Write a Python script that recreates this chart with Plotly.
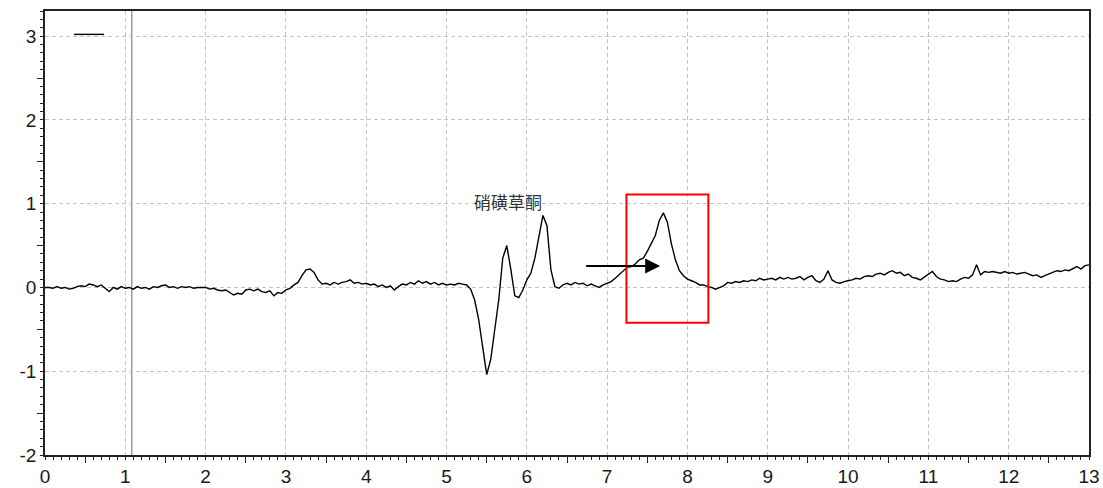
import plotly.graph_objects as go

# Detector trace sampled every 0.05 min from 0 to 13 min
sample_step = 0.05
signal = [
    # 0.00 - 1.00
    0.00, 0.00, -0.01, 0.01, -0.01, 0.00, -0.02, -0.01, 0.01, 0.02,
    0.01, 0.04, 0.03, 0.01, 0.03, -0.01, -0.05, 0.00, -0.02, 0.01, -0.01,
    # 1.05 - 2.00
    0.00, -0.02, 0.01, -0.01, 0.00, -0.02, 0.01, 0.00, 0.02, 0.03,
    0.00, 0.01, -0.01, 0.01, 0.00, 0.01, -0.01, 0.00, 0.00, 0.00,
    # 2.05 - 3.00
    -0.02, -0.01, -0.03, -0.04, -0.03, -0.06, -0.09, -0.07, -0.08, -0.03,
    -0.02, -0.04, -0.02, -0.05, -0.06, -0.04, -0.10, -0.06, -0.07, -0.03,
    # 3.05 - 4.00
    -0.01, 0.03, 0.06, 0.14, 0.21, 0.22, 0.18, 0.09, 0.04, 0.05,
    0.03, 0.06, 0.04, 0.06, 0.07, 0.09, 0.05, 0.06, 0.04, 0.05,
    # 4.05 - 5.00
    0.03, 0.04, 0.01, 0.03, 0.00, 0.02, -0.03, 0.01, 0.04, 0.03,
    0.06, 0.04, 0.08, 0.05, 0.07, 0.04, 0.06, 0.03, 0.05, 0.03,
    # 5.05 - 6.00
    0.04, 0.03, 0.05, 0.04, 0.03, -0.02, -0.15, -0.38, -0.70, -1.04,
    -0.86, -0.52, -0.15, 0.35, 0.50, 0.22, -0.10, -0.12, -0.03, 0.09,
    # 6.05 - 7.00
    0.17, 0.35, 0.62, 0.86, 0.74, 0.21, 0.01, -0.01, 0.03, 0.05,
    0.03, 0.06, 0.04, 0.05, 0.02, 0.04, 0.02, 0.00, 0.03, 0.05,
    # 7.05 - 8.00
    0.07, 0.11, 0.15, 0.20, 0.24, 0.25, 0.28, 0.33, 0.35, 0.43,
    0.52, 0.62, 0.80, 0.89, 0.78, 0.52, 0.33, 0.20, 0.14, 0.10,
    # 8.05 - 9.00
    0.08, 0.06, 0.03, 0.03, 0.01, 0.00, -0.02, 0.00, 0.02, 0.06,
    0.05, 0.07, 0.06, 0.08, 0.07, 0.09, 0.08, 0.11, 0.09, 0.10,
    # 9.05 - 10.00
    0.11, 0.09, 0.12, 0.10, 0.12, 0.10, 0.11, 0.13, 0.09, 0.12,
    0.14, 0.08, 0.06, 0.10, 0.20, 0.09, 0.06, 0.05, 0.07, 0.08,
    # 10.05 - 11.00
    0.09, 0.11, 0.10, 0.13, 0.14, 0.13, 0.16, 0.17, 0.15, 0.18,
    0.20, 0.17, 0.18, 0.14, 0.16, 0.12, 0.11, 0.09, 0.12, 0.15,
    # 11.05 - 12.00
    0.19, 0.13, 0.10, 0.09, 0.07, 0.08, 0.07, 0.10, 0.12, 0.11,
    0.15, 0.27, 0.15, 0.19, 0.18, 0.19, 0.18, 0.17, 0.19, 0.17,
    # 12.05 - 13.00
    0.18, 0.16, 0.17, 0.18, 0.16, 0.14, 0.15, 0.12, 0.14, 0.16,
    0.18, 0.20, 0.19, 0.21, 0.20, 0.23, 0.25, 0.22, 0.26, 0.27,
]
times = [round(i * sample_step, 2) for i in range(len(signal))]

x_ticks = list(range(0, 14))
x_tick_labels = [str(v) for v in x_ticks]
y_ticks = [-2, -1, 0, 1, 2, 3]
y_tick_labels = ["-2", "-1", "0", "1", "2", "3"]
x_half_ticks = [v + 0.5 for v in range(0, 13)]
y_half_ticks = [-1.5, -0.5, 0.5, 1.5, 2.5]

x_range = [0, 13]
y_range = [-2, 3.3]

marker_time = 1.08
peak_label = "硝磺草酮"
label_pos = (5.77, 1.03)
arrow_start = (6.72, 0.255)
arrow_end = (7.66, 0.255)
box_x = (7.24, 8.26)
box_y = (-0.42, 1.11)

axis_color = "#222222"
grid_color = "#c4c4c4"
tick_font = dict(family="Liberation Sans, Arial, sans-serif", size=19, color="#1a1a1a")

fig = go.Figure()
fig.add_trace(go.Scatter(
    x=times, y=signal, mode="lines", name=" ",
    line=dict(color="#000000", width=1.4),
    showlegend=True, hoverinfo="x+y",
))
# empty trace carrying the secondary (half-step tick) axes
fig.add_trace(go.Scatter(x=[], y=[], xaxis="x2", yaxis="y2", showlegend=False))

fig.update_layout(
    width=1103, height=488,
    margin=dict(l=45, r=14, t=11, b=33),
    paper_bgcolor="white", plot_bgcolor="white",
    showlegend=True,
    legend=dict(x=0.023, y=0.98, xanchor="left", yanchor="top",
                bgcolor="rgba(0,0,0,0)", font=dict(size=8),
                itemwidth=30, tracegroupgap=0),
    xaxis=dict(
        range=x_range, tickvals=x_ticks, ticktext=x_tick_labels,
        ticks="outside", ticklen=3, tickwidth=1, tickcolor=axis_color,
        tickfont=tick_font, automargin=False,
        showgrid=True, gridcolor=grid_color, gridwidth=1, griddash="4px,3px",
        showline=True, linecolor=axis_color, linewidth=1.5, mirror=True,
        zeroline=False,
        minor=dict(dtick=0.1, tick0=0, ticks="outside", ticklen=3,
                   tickcolor=axis_color, showgrid=False),
    ),
    yaxis=dict(
        range=y_range, tickvals=y_ticks, ticktext=y_tick_labels,
        ticks="outside", ticklen=3, tickwidth=1, tickcolor=axis_color,
        tickfont=tick_font, automargin=False,
        showgrid=True, gridcolor=grid_color, gridwidth=1, griddash="4px,3px",
        showline=True, linecolor=axis_color, linewidth=1.5, mirror=True,
        zeroline=False,
        minor=dict(dtick=0.1, tick0=0, ticks="outside", ticklen=3,
                   tickcolor=axis_color, showgrid=False),
    ),
    xaxis2=dict(
        range=x_range, overlaying="x", anchor="y", side="bottom",
        tickvals=x_half_ticks, ticks="outside", ticklen=7,
        tickcolor=axis_color, showticklabels=False, automargin=False,
        showgrid=False, zeroline=False, showline=False,
    ),
    yaxis2=dict(
        range=y_range, overlaying="y", anchor="x", side="left",
        tickvals=y_half_ticks, ticks="outside", ticklen=7,
        tickcolor=axis_color, showticklabels=False, automargin=False,
        showgrid=False, zeroline=False, showline=False,
    ),
)

# vertical time marker
fig.add_shape(type="line", xref="x", yref="paper",
              x0=marker_time, x1=marker_time, y0=0, y1=1,
              line=dict(color="#9a9a9a", width=1.5), layer="below")

# highlight box around the peak of interest
fig.add_shape(type="rect", xref="x", yref="y",
              x0=box_x[0], x1=box_x[1], y0=box_y[0], y1=box_y[1],
              line=dict(color="#ff0000", width=2), fillcolor="rgba(0,0,0,0)")

# compound label
fig.add_annotation(x=label_pos[0], y=label_pos[1], text=peak_label,
                   showarrow=False, xanchor="center", yanchor="middle",
                   font=dict(family="Noto Sans CJK SC", size=17, color="#333333"))

# arrow pointing at the peak
fig.add_annotation(x=arrow_end[0], y=arrow_end[1],
                   ax=arrow_start[0], ay=arrow_start[1],
                   xref="x", yref="y", axref="x", ayref="y",
                   text="", showarrow=True, arrowhead=2, arrowsize=1.5,
                   arrowwidth=2, arrowcolor="#000000", standoff=0)

fig.write_html("out.html")
